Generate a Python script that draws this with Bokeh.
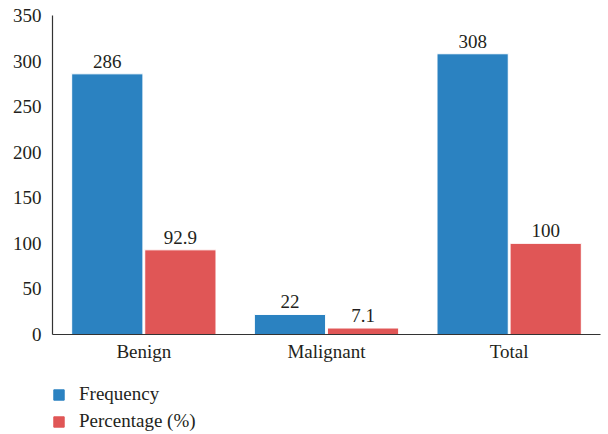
from bokeh.plotting import figure
from bokeh.layouts import column
from bokeh.models import ColumnDataSource, Range1d, FactorRange, Legend, LegendItem, FixedTicker
from bokeh.transform import dodge
from bokeh.core.properties import value
from bokeh.embed import file_html
from bokeh.resources import INLINE

categories = ["Benign", "Malignant", "Total"]
frequency = [286, 22, 308]
percentage = [92.9, 7.1, 100]
freq_labels = ["286", "22", "308"]
pct_labels = ["92.9", "7.1", "100"]
y_ticks = [0, 50, 100, 150, 200, 250, 300, 350]
series_names = ["Frequency", "Percentage (%)"]

FONT = "Liberation Serif"
BLUE = "#2b82c1"
RED = "#e05656"
TXT = "#231f20"

src = ColumnDataSource(dict(cat=categories, freq=frequency, pct=percentage,
                            fl=freq_labels, pl=pct_labels))

p = figure(x_range=FactorRange(*categories), y_range=Range1d(0, 350),
           width=608, height=370, output_backend="svg", toolbar_location=None,
           min_border_left=52, min_border_right=8, min_border_top=15, min_border_bottom=36)

p.vbar(x=dodge("cat", -0.2, range=p.x_range), top="freq", width=0.39, source=src,
       fill_color=BLUE, line_color="white", line_width=1)
p.vbar(x=dodge("cat", 0.2, range=p.x_range), top="pct", width=0.39, source=src,
       fill_color=RED, line_color="white", line_width=1)

p.text(x=dodge("cat", -0.2, range=p.x_range), y="freq", text="fl", source=src,
       text_align="center", text_baseline="bottom", y_offset=-6,
       text_font=value(FONT), text_font_size="19px", text_color=TXT)
p.text(x=dodge("cat", 0.2, range=p.x_range), y="pct", text="pl", source=src,
       text_align="center", text_baseline="bottom", y_offset=-6,
       text_font=value(FONT), text_font_size="19px", text_color=TXT)

p.xgrid.visible = False
p.ygrid.visible = False
p.outline_line_color = None

p.yaxis.ticker = FixedTicker(ticks=y_ticks)
for ax in (p.xaxis[0], p.yaxis[0]):
    ax.major_tick_line_color = None
    ax.minor_tick_line_color = None
    ax.major_tick_out = 0
    ax.major_tick_in = 0
    ax.axis_line_color = "#333333"
    ax.axis_line_width = 1.2
    ax.major_label_text_font = FONT
    ax.major_label_text_font_size = "19px"
    ax.major_label_text_color = TXT
p.yaxis.major_label_standoff = 11
p.xaxis.major_label_standoff = 6

# legend strip below the chart (swatch renderers sit far outside the visible range)
lg = figure(width=608, height=64, output_backend="svg", toolbar_location=None,
            x_range=Range1d(0, 1), y_range=Range1d(0, 1),
            min_border_left=52, min_border_right=0, min_border_top=13, min_border_bottom=0)
lg.axis.visible = False
lg.grid.visible = False
lg.outline_line_color = None
g1 = lg.vbar(x=[-100], top=[-100], bottom=[-101], width=1, fill_color=BLUE, line_color=BLUE)
g2 = lg.vbar(x=[-100], top=[-100], bottom=[-101], width=1, fill_color=RED, line_color=RED)
legend = Legend(items=[LegendItem(label=series_names[0], renderers=[g1]),
                       LegendItem(label=series_names[1], renderers=[g2])],
                location="top_left", orientation="vertical",
                label_text_font=FONT, label_text_font_size="19px", label_text_color=TXT,
                glyph_width=13, glyph_height=13, label_standoff=14, spacing=5,
                padding=0, margin=0, border_line_color=None, background_fill_alpha=0,
                label_height=20)
lg.add_layout(legend, "center")

open("out.html", "w").write(file_html(column(p, lg, spacing=0), INLINE))
